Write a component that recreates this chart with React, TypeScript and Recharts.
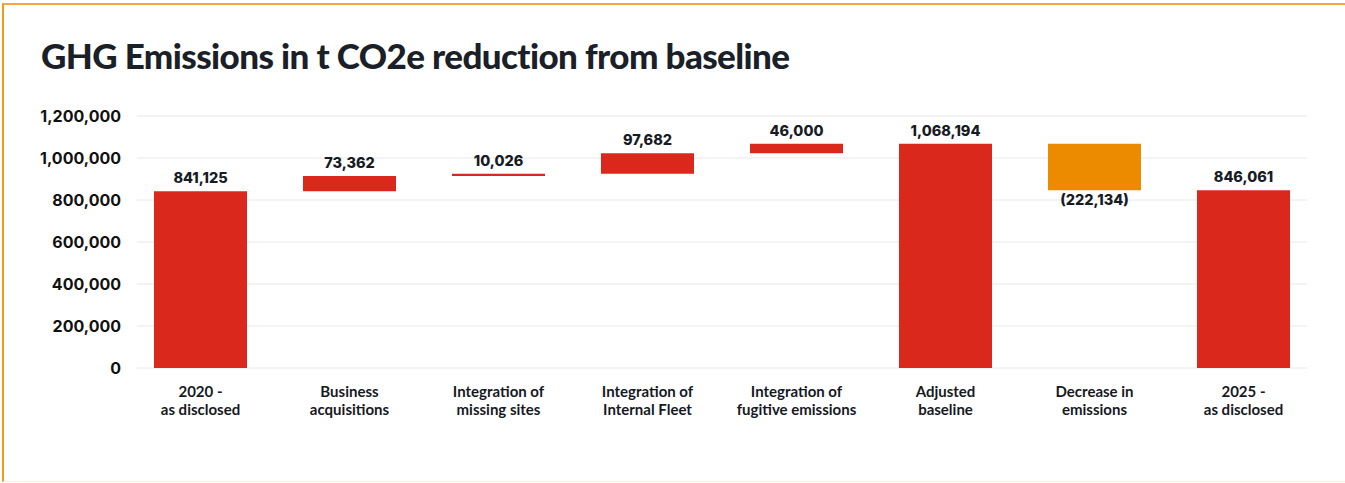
import { Bar, BarChart, CartesianGrid, Cell, LabelList, XAxis, YAxis } from "recharts";

const categorias = [
  "2020 -\nas disclosed",
  "Business\nacquisitions",
  "Integration of\nmissing sites",
  "Integration of\nInternal Fleet",
  "Integration of\nfugitive emissions",
  "Adjusted\nbaseline",
  "Decrease in\nemissions",
  "2025 -\nas disclosed",
];

const valores = [841125, 73362, 10026, 97682, 46000, 1068194, -222134, 846061];

// true = barra de total (parte do zero), false = variação sobre o acumulado
const totais = [true, false, false, false, false, true, false, true];

const ticksY = [0, 200000, 400000, 600000, 800000, 1000000, 1200000];

const VERMELHO = "#da291c";
const LARANJA = "#ed8b00";

function formatar(valor: number) {
  const texto = Math.abs(valor).toLocaleString("en-US");
  return valor < 0 ? `(${texto})` : texto;
}

/**
 * Monta as barras da cascata: uma base invisível e o trecho visível.
 */
function montarDados() {
  let acumulado = 0;
  return categorias.map((nome, i) => {
    const valor = valores[i];
    let base: number;
    if (totais[i]) {
      base = 0;
      acumulado = valor;
    } else if (valor >= 0) {
      base = acumulado;
      acumulado += valor;
    } else {
      acumulado += valor;
      base = acumulado;
    }
    return { nome, valor, base, trecho: Math.abs(valor), cor: valor < 0 ? LARANJA : VERMELHO };
  });
}

const dados = montarDados();

function TickCategoria(props: any) {
  const { x, y, payload } = props;
  const linhas = String(payload.value).split("\n");
  return (
    <text
      x={x}
      y={y}
      textAnchor="middle"
      fill="#16191f"
      fontFamily="Lato, sans-serif"
      fontWeight={700}
      fontSize={15}
    >
      {linhas.map((linha, i) => (
        <tspan key={i} x={x} dy={i === 0 ? 29 : 18}>
          {linha}
        </tspan>
      ))}
    </text>
  );
}

function RotuloValor(props: any) {
  const { x, y, width, height, index } = props;
  const item = dados[index];
  const negativo = item.valor < 0;
  return (
    <text
      x={x + width / 2}
      y={negativo ? y + height + 15 : y - 8}
      textAnchor="middle"
      fill="#161b24"
      fontFamily="Inter, sans-serif"
      fontWeight={800}
      fontSize={14.5}
    >
      {formatar(item.valor)}
    </text>
  );
}

function LinhaGrade(props: any) {
  return (
    <line
      key={`h-${props.index}`}
      x1={props.x1 + 11}
      x2={props.x2 - 11}
      y1={props.y1}
      y2={props.y2}
      stroke="#e8e8e8"
      strokeWidth={1}
    />
  );
}

export default function App() {
  return (
    <div
      style={{
        position: "absolute",
        left: 0,
        top: 0,
        width: 1345,
        height: 483,
        background: "#fff",
        overflow: "hidden",
      }}
    >
      <div
        style={{
          position: "absolute",
          left: 2,
          top: 3,
          right: 0,
          bottom: 1,
          borderTop: "2px solid #f5a640",
          borderLeft: "2px solid #f59b1e",
          borderBottom: "1px solid #fdefe2",
        }}
      />
      <div
        style={{
          position: "absolute",
          left: 41,
          top: 35,
          fontFamily: "Lato, sans-serif",
          fontWeight: 900,
          fontSize: 35,
          lineHeight: "40px",
          letterSpacing: -0.6,
          color: "#1b1f27",
          whiteSpace: "nowrap",
        }}
      >
        GHG Emissions in t CO2e reduction from baseline
      </div>
      <BarChart
        width={1345}
        height={483}
        data={dados}
        margin={{ top: 116, right: 27, bottom: 0, left: 0 }}
        style={{ position: "absolute", left: 0, top: 0 }}
      >
        <CartesianGrid vertical={false} horizontal={LinhaGrade} />
        <XAxis
          dataKey="nome"
          axisLine={false}
          tickLine={false}
          tickSize={0}
          tickMargin={0}
          height={115}
          interval={0}
          tick={<TickCategoria />}
        />
        <YAxis
          width={126}
          domain={[0, 1200000]}
          ticks={ticksY}
          axisLine={false}
          tickLine={false}
          tickSize={0}
          tickMargin={5}
          tickFormatter={(v: number) => v.toLocaleString("en-US")}
          tick={{ fill: "#111", fontSize: 16, fontWeight: 700, fontFamily: "Inter, sans-serif" }}
        />
        <Bar dataKey="base" stackId="cascata" fill="transparent" barSize={93} isAnimationActive={false} />
        <Bar dataKey="trecho" stackId="cascata" barSize={93} isAnimationActive={false}>
          {dados.map((item) => (
            <Cell key={item.nome} fill={item.cor} />
          ))}
          <LabelList dataKey="trecho" content={<RotuloValor />} />
        </Bar>
      </BarChart>
    </div>
  );
}
